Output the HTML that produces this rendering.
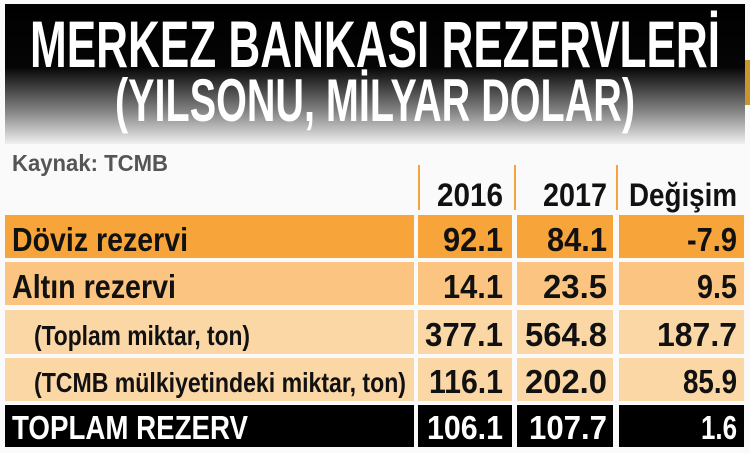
<!DOCTYPE html>
<html><head><meta charset="utf-8"><style>
html,body{margin:0;padding:0;background:#fff;}
svg{display:block;}
text{font-family:"Liberation Sans Narrow","Liberation Sans",sans-serif;font-weight:bold;}
</style></head><body>
<svg width="750" height="453" viewBox="0 0 750 453" xmlns="http://www.w3.org/2000/svg">
<defs>
<linearGradient id="g" x1="0" y1="0" x2="0" y2="1">
<stop offset="0" stop-color="#000"/>
<stop offset="0.45" stop-color="#050505"/>
<stop offset="0.78" stop-color="#8a8a8a"/>
<stop offset="1" stop-color="#f0f0f0"/>
</linearGradient>
</defs>
<rect width="750" height="453" fill="#fafafa"/>
<rect x="5" y="4" width="740" height="140" fill="url(#g)"/>
<rect x="745" y="60" width="5" height="45" fill="#c9962e"/>
<text x="375" y="67" font-size="66" fill="#fff" text-anchor="middle" textLength="690" lengthAdjust="spacingAndGlyphs">MERKEZ BANKASI REZERVLERİ</text>
<text x="375" y="121" font-size="60" fill="#fff" text-anchor="middle" textLength="520" lengthAdjust="spacingAndGlyphs">(YILSONU, MİLYAR DOLAR)</text>
<text x="12" y="171" font-size="23" fill="#555" textLength="156" lengthAdjust="spacingAndGlyphs">Kaynak: TCMB</text>
<rect x="418" y="165" width="2" height="45" fill="#f3a43a"/>
<rect x="514" y="165" width="2" height="45" fill="#f3a43a"/>
<rect x="616" y="165" width="2" height="45" fill="#f3a43a"/>
<g font-size="32" fill="#111">
<text x="503" y="206" text-anchor="end" textLength="66" lengthAdjust="spacingAndGlyphs">2016</text>
<text x="607" y="206" text-anchor="end" textLength="64" lengthAdjust="spacingAndGlyphs">2017</text>
<text x="737" y="206" text-anchor="end" textLength="108" lengthAdjust="spacingAndGlyphs">Değişim</text>
</g>
<g>
<rect x="5" y="215" width="409" height="43" fill="#f7a53a"/>
<rect x="418" y="215" width="94" height="43" fill="#f7a53a"/>
<rect x="517" y="215" width="96" height="43" fill="#f7a53a"/>
<rect x="619" y="215" width="125" height="43" fill="#f7a53a"/>
<rect x="5" y="262" width="409" height="43" fill="#fbc581"/>
<rect x="418" y="262" width="94" height="43" fill="#fbc581"/>
<rect x="517" y="262" width="96" height="43" fill="#fbc581"/>
<rect x="619" y="262" width="125" height="43" fill="#fbc581"/>
<rect x="5" y="310" width="409" height="44" fill="#fcd7a6"/>
<rect x="418" y="310" width="94" height="44" fill="#fcd7a6"/>
<rect x="517" y="310" width="96" height="44" fill="#fcd7a6"/>
<rect x="619" y="310" width="125" height="44" fill="#fcd7a6"/>
<rect x="5" y="358" width="409" height="43" fill="#fcd7a6"/>
<rect x="418" y="358" width="94" height="43" fill="#fcd7a6"/>
<rect x="517" y="358" width="96" height="43" fill="#fcd7a6"/>
<rect x="619" y="358" width="125" height="43" fill="#fcd7a6"/>
<rect x="5" y="405" width="409" height="42" fill="#000"/>
<rect x="418" y="405" width="94" height="42" fill="#000"/>
<rect x="517" y="405" width="96" height="42" fill="#000"/>
<rect x="619" y="405" width="125" height="42" fill="#000"/>
</g>
<g font-size="33" fill="#111">
<text x="12" y="251" textLength="176" lengthAdjust="spacingAndGlyphs">Döviz rezervi</text>
<text x="12" y="298" textLength="164" lengthAdjust="spacingAndGlyphs">Altın rezervi</text>
<text x="503" y="251" text-anchor="end" textLength="60" lengthAdjust="spacingAndGlyphs">92.1</text>
<text x="607" y="251" text-anchor="end" textLength="60" lengthAdjust="spacingAndGlyphs">84.1</text>
<text x="737" y="251" text-anchor="end" textLength="50" lengthAdjust="spacingAndGlyphs">-7.9</text>
<text x="503" y="298" text-anchor="end" textLength="60" lengthAdjust="spacingAndGlyphs">14.1</text>
<text x="607" y="298" text-anchor="end" textLength="64" lengthAdjust="spacingAndGlyphs">23.5</text>
<text x="737" y="298" text-anchor="end" textLength="40" lengthAdjust="spacingAndGlyphs">9.5</text>
<text x="503" y="346" text-anchor="end" textLength="78" lengthAdjust="spacingAndGlyphs">377.1</text>
<text x="607" y="346" text-anchor="end" textLength="82" lengthAdjust="spacingAndGlyphs">564.8</text>
<text x="737" y="346" text-anchor="end" textLength="80" lengthAdjust="spacingAndGlyphs">187.7</text>
<text x="503" y="393" text-anchor="end" textLength="74" lengthAdjust="spacingAndGlyphs">116.1</text>
<text x="607" y="393" text-anchor="end" textLength="82" lengthAdjust="spacingAndGlyphs">202.0</text>
<text x="737" y="393" text-anchor="end" textLength="54" lengthAdjust="spacingAndGlyphs">85.9</text>
</g>
<g font-size="28" fill="#111">
<text x="34" y="345" textLength="216" lengthAdjust="spacingAndGlyphs">(Toplam miktar, ton)</text>
<text x="34" y="392" textLength="372" lengthAdjust="spacingAndGlyphs">(TCMB mülkiyetindeki miktar, ton)</text>
</g>
<g font-size="33" fill="#fff">
<text x="12" y="439" textLength="236" lengthAdjust="spacingAndGlyphs">TOPLAM REZERV</text>
<text x="503" y="439" text-anchor="end" textLength="76" lengthAdjust="spacingAndGlyphs">106.1</text>
<text x="607" y="439" text-anchor="end" textLength="78" lengthAdjust="spacingAndGlyphs">107.7</text>
<text x="737" y="439" text-anchor="end" textLength="36" lengthAdjust="spacingAndGlyphs">1.6</text>
</g>
</svg>
</body></html>
